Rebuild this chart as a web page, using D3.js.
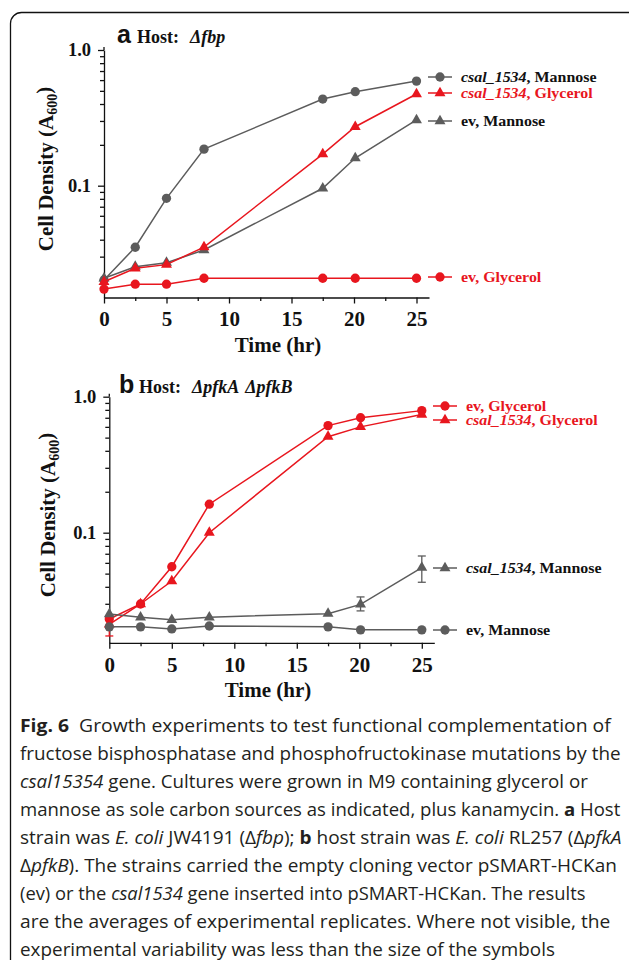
<!DOCTYPE html>
<html>
<head>
<meta charset="utf-8">
<script src="https://cdn.jsdelivr.net/npm/d3@7/dist/d3.min.js"></script>
<style>
  html, body { margin: 0; padding: 0; background: #fff; }
  svg { display: block; }
</style>
</head>
<body>
<svg id="chart" width="629" height="960"></svg>
<script>
// ---------------- DATA ----------------
const xTickValues = [0, 5, 10, 15, 20, 25];
const xMinorTicks = [2.5, 7.5, 12.5, 17.5, 22.5];
const yTickValues = [0.1, 1.0];
const yMinorTicks = [0.02, 0.03, 0.04, 0.05, 0.06, 0.07, 0.08, 0.09, 0.2, 0.3, 0.4, 0.5, 0.6, 0.7, 0.8, 0.9];

const time = [0, 2.5, 5, 8, 17.5, 20.1, 25];

// Panel a (Host: Δfbp)
const aCsalMannose  = [0.0202, 0.0352, 0.0807, 0.186, 0.435, 0.493, 0.59];
const aCsalGlycerol = [0.0196, 0.0246, 0.0262, 0.0353, 0.171, 0.272, 0.474];
const aEvMannose    = [0.0208, 0.0253, 0.0271, 0.0336, 0.0957, 0.16, 0.305];
const aEvGlycerol   = [0.0173, 0.0188, 0.0188, 0.0208, 0.0208, 0.0208, 0.0208];

// Panel b (Host: ΔpfkA ΔpfkB)
const bEvGlycerol   = [0.0232, 0.0299, 0.0562, 0.162, 0.613, 0.70, 0.79];
const bCsalGlycerol = [0.0212, 0.0299, 0.0441, 0.100, 0.508, 0.60, 0.74];
const bCsalMannose  = [0.0252, 0.0239, 0.0229, 0.0239, 0.0254, 0.0297, 0.0553];
const bEvMannose    = [0.0203, 0.0203, 0.0196, 0.0206, 0.0203, 0.0193, 0.0193];
// error bars [low, high] (null = smaller than symbol)
const bCsalMannoseErr  = [null, null, null, null, null, [0.0266, 0.0337], [0.0432, 0.0674]];
const bCsalGlycerolErr = [[0.0174, 0.0245], null, null, null, null, null, null];

const seriesNamesA = ["csal_1534, Mannose", "csal_1534, Glycerol", "ev, Mannose", "ev, Glycerol"];
const seriesNamesB = ["ev, Glycerol", "csal_1534, Glycerol", "csal_1534, Mannose", "ev, Mannose"];

// ---------------- STYLE ----------------
const RED = "#e8161e";
const GRAY = "#5c5c5c";
const SERIF = "'Liberation Serif', 'Times New Roman', serif";
const SANS = "'Liberation Sans', Arial, sans-serif";

const svg = d3.select("#chart");
svg.append("rect").attr("width", 629).attr("height", 960).attr("fill", "#fff");

// frame
svg.append("rect")
  .attr("x", 10.5).attr("y", 12.5).attr("width", 640).attr("height", 960)
  .attr("rx", 11).attr("fill", "none").attr("stroke", "#111").attr("stroke-width", 1.3);

function drawPanel(cfg) {
  const g = svg.append("g");
  const x = d3.scaleLinear().domain([0, 26]).range(cfg.xRange);
  const y = d3.scaleLog().domain(cfg.yDomain).range(cfg.yRange);

  // axes
  const xAxis = g.append("g").attr("transform", `translate(0,${cfg.yRange[0]})`)
    .call(d3.axisBottom(x).tickValues(xTickValues).tickSize(6).tickSizeOuter(0).tickPadding(8).tickFormat(d3.format("d")));
  xAxis.selectAll("text").attr("font-family", SERIF).attr("font-weight", "bold")
    .attr("font-size", 21).attr("fill", "#111").attr("dy", "0.71em");
  g.append("g").attr("transform", `translate(0,${cfg.yRange[0]})`)
    .call(d3.axisBottom(x).tickValues(xMinorTicks).tickSize(3.5).tickSizeOuter(0).tickFormat(""))
    .select(".domain").remove();

  const yAxis = g.append("g").attr("transform", `translate(${cfg.xRange[0]},0)`)
    .call(d3.axisLeft(y).tickValues(yTickValues).tickSize(6).tickSizeOuter(0).tickPadding(7).tickFormat(d3.format(".1f")));
  yAxis.selectAll("text").attr("font-family", SERIF).attr("font-weight", "bold")
    .attr("font-size", 18.5).attr("fill", "#111");
  g.append("g").attr("transform", `translate(${cfg.xRange[0]},0)`)
    .call(d3.axisLeft(y).tickValues(yMinorTicks).tickSize(4).tickSizeOuter(0).tickFormat(""))
    .select(".domain").remove();
  g.selectAll(".domain, .tick line").attr("stroke", "#111").attr("stroke-width", 1.3);
  // slight extension of y axis above 1.0
  g.append("line").attr("x1", cfg.xRange[0]).attr("x2", cfg.xRange[0])
    .attr("y1", y(1.0)).attr("y2", y(1.0) - 3).attr("stroke", "#111").attr("stroke-width", 1.3);

  // axis titles
  g.append("text").attr("x", cfg.xTitleX).attr("y", cfg.yRange[0] + 54)
    .attr("text-anchor", "middle").attr("font-family", SERIF).attr("font-weight", "bold")
    .attr("font-size", 21).attr("fill", "#111").text("Time (hr)");
  const yt = g.append("text")
    .attr("transform", `translate(${cfg.yTitleX},${cfg.yTitleY}) rotate(-90)`)
    .attr("text-anchor", "middle").attr("font-family", SERIF).attr("font-weight", "bold")
    .attr("font-size", 21).attr("fill", "#111");
  yt.append("tspan").text("Cell Density (A");
  yt.append("tspan").attr("font-size", 14).attr("dy", "0.3em").text("600");
  yt.append("tspan").attr("dy", "-0.3em").text(")");

  // panel title
  g.append("text").attr("x", cfg.titleX).attr("y", cfg.titleY)
    .attr("font-family", SANS).attr("font-weight", "bold").attr("font-size", 25).attr("fill", "#111")
    .text(cfg.letter);
  const tt = g.append("text").attr("x", cfg.titleX + 20).attr("y", cfg.titleY)
    .attr("font-family", SERIF).attr("font-weight", "bold").attr("font-size", 18).attr("fill", "#111");
  tt.append("tspan").text("Host:");
  cfg.hostParts.forEach((p, i) => {
    tt.append("tspan").attr("dx", i === 0 ? 11 : 6).attr("font-style", "italic").text(p);
  });

  const line = d3.line().x((d, i) => x(time[i])).y(d => y(d));
  const sym = {
    circle: d3.symbol().type(d3.symbolCircle).size(68),
    triangle: d3.symbol().type(d3.symbolTriangle).size(52)
  };

  cfg.series.forEach(s => {
    const sg = g.append("g");
    if (s.err) {
      s.err.forEach((e, i) => {
        if (!e) return;
        const cx = x(time[i]);
        sg.append("line").attr("x1", cx).attr("x2", cx).attr("y1", y(e[0])).attr("y2", y(e[1]))
          .attr("stroke", s.color).attr("stroke-width", 1.3);
        [e[0], e[1]].forEach(v => sg.append("line").attr("x1", cx - 4).attr("x2", cx + 4)
          .attr("y1", y(v)).attr("y2", y(v)).attr("stroke", s.color).attr("stroke-width", 1.3));
      });
    }
    sg.append("path").datum(s.values).attr("d", line).attr("fill", "none")
      .attr("stroke", s.color).attr("stroke-width", 1.5);
    sg.selectAll("path.m").data(s.values).join("path").attr("class", "m")
      .attr("transform", (d, i) => `translate(${x(time[i])},${y(d)})`)
      .attr("d", sym[s.marker]()).attr("fill", s.color);
  });

  // legend
  cfg.legend.forEach(l => {
    const s = l.series;
    g.append("line").attr("x1", cfg.legX).attr("x2", cfg.legX + 24).attr("y1", l.y).attr("y2", l.y)
      .attr("stroke", s.color).attr("stroke-width", 1.5);
    g.append("path").attr("transform", `translate(${cfg.legX + 12},${l.y})`)
      .attr("d", sym[s.marker]()).attr("fill", s.color);
    const t = g.append("text").attr("x", 0).attr("y", 0)
      .attr("transform", `translate(${cfg.legX + 33},${l.y + 4.5}) scale(1.14,1)`)
      .attr("font-family", SERIF).attr("font-weight", "bold").attr("font-size", 14)
      .attr("fill", s.color === RED ? RED : "#111");
    const parts = s.name.split(", ");
    if (parts[0].startsWith("csal")) {
      t.append("tspan").attr("font-style", "italic").text(parts[0]);
      t.append("tspan").text(", " + parts[1]);
    } else {
      t.text(s.name);
    }
  });
}

// ----- Panel a -----
const sA = [
  { name: seriesNamesA[0], values: aCsalMannose, color: GRAY, marker: "circle" },
  { name: seriesNamesA[2], values: aEvMannose, color: GRAY, marker: "triangle" },
  { name: seriesNamesA[3], values: aEvGlycerol, color: RED, marker: "circle" },
  { name: seriesNamesA[1], values: aCsalGlycerol, color: RED, marker: "triangle" }
];
drawPanel({
  letter: "a", hostParts: ["\u0394fbp"], titleX: 117, titleY: 43,
  xRange: [104, 429], yDomain: [0.015, 1.0], yRange: [297.5, 50],
  xTitleX: 278, yTitleX: 53, yTitleY: 169,
  series: sA, legX: 428,
  legend: [
    { series: sA[0], y: 77 }, { series: sA[3], y: 93 },
    { series: sA[1], y: 121 }, { series: sA[2], y: 277 }
  ]
});

// ----- Panel b -----
const sB = [
  { name: seriesNamesB[0], values: bEvGlycerol, color: RED, marker: "circle" },
  { name: seriesNamesB[1], values: bCsalGlycerol, color: RED, marker: "triangle", err: bCsalGlycerolErr },
  { name: seriesNamesB[3], values: bEvMannose, color: GRAY, marker: "circle" },
  { name: seriesNamesB[2], values: bCsalMannose, color: GRAY, marker: "triangle", err: bCsalMannoseErr }
];
drawPanel({
  letter: "b", hostParts: ["\u0394pfkA", "\u0394pfkB"], titleX: 119, titleY: 393,
  xRange: [109.3, 434.3], yDomain: [0.0155, 1.0], yRange: [642.8, 396.7],
  xTitleX: 268, yTitleX: 55, yTitleY: 515,
  series: sB, legX: 433,
  legend: [
    { series: sB[0], y: 406 }, { series: sB[1], y: 420 },
    { series: sB[3], y: 568 }, { series: sB[2], y: 630 }
  ]
});

// ---------------- CAPTION ----------------
const captionLines = [
  { end: 611, parts: [{ t: "Fig. 6", b: 1 }, { t: "  Growth experiments to test functional complementation of" }] },
  { end: 621, parts: [{ t: "fructose bisphosphatase and phosphofructokinase mutations by the" }] },
  { end: 588, parts: [{ t: "csal15354", i: 1 }, { t: " gene. Cultures were grown in M9 containing glycerol or" }] },
  { end: 621, parts: [{ t: "mannose as sole carbon sources as indicated, plus kanamycin. " }, { t: "a", b: 1 }, { t: " Host" }] },
  { end: 622, parts: [{ t: "strain was " }, { t: "E. coli", i: 1 }, { t: " JW4191 (\u0394" }, { t: "fbp", i: 1 }, { t: "); " }, { t: "b", b: 1 }, { t: " host strain was " }, { t: "E. coli", i: 1 }, { t: " RL257 (\u0394" }, { t: "pfkA", i: 1 }] },
  { end: 617, parts: [{ t: "\u0394" }, { t: "pfkB", i: 1 }, { t: "). The strains carried the empty cloning vector pSMART-HCKan" }] },
  { end: 586, parts: [{ t: "(ev) or the " }, { t: "csal1534", i: 1 }, { t: " gene inserted into pSMART-HCKan. The results" }] },
  { end: 611, parts: [{ t: "are the averages of experimental replicates. Where not visible, the" }] },
  { end: 555, parts: [{ t: "experimental variability was less than the size of the symbols" }] }
];
const capStartX = 20, capFirstBaseline = 732, capLeading = 28;
captionLines.forEach((ln, k) => {
  const t = svg.append("text")
    .attr("x", 0).attr("y", 0)
    .attr("font-family", "'Open Sans', 'Noto Sans', sans-serif")
    .attr("font-size", 18.5).attr("fill", "#231f20")
    .style("white-space", "pre");
  ln.parts.forEach(p => {
    t.append("tspan").attr("font-weight", p.b ? "bold" : "normal")
      .attr("font-style", p.i ? "italic" : "normal").text(p.t);
  });
  const w = t.node().getComputedTextLength();
  const sx = (ln.end - capStartX) / w;
  t.attr("transform", `translate(${capStartX},${capFirstBaseline + k * capLeading}) scale(${sx},1)`);
});
</script>
</body>
</html>
